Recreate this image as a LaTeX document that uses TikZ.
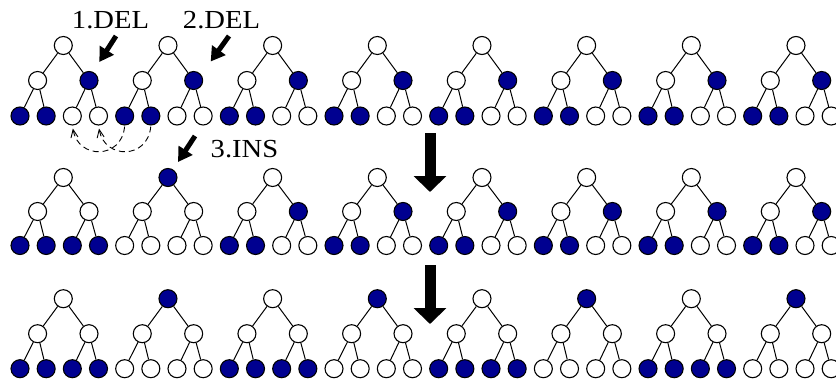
\documentclass[tikz,border=0pt]{standalone}
\usepackage{fontspec}
\setmainfont{Liberation Serif}
\newfontfamily\lblfont[FakeStretch=1.1]{Liberation Serif}
\usetikzlibrary{arrows.meta}
\definecolor{B}{RGB}{0,0,144}
\colorlet{W}{white}
\begin{document}
\begin{tikzpicture}[x=1pt,y=-1pt,
  vtx/.style={circle,draw=black,line width=1.1pt,minimum size=18pt,inner sep=0pt},
  edge/.style={line width=1pt},
  lbl/.style={font=\lblfont\fontsize{26}{30}\selectfont,inner sep=0pt},
  fatarrow/.style={line width=5pt,-{Triangle[length=14pt,width=16pt]}},
  bigarrow/.style={line width=11pt,-{Triangle[length=16pt,width=32pt]}},
  move/.style={line width=0.9pt,dash pattern=on 6pt off 4pt,shorten <=1pt,shorten >=3pt,-{Straight Barb[length=8pt,width=7pt]}}
]
\useasboundingbox (0,0) rectangle (836,381);
\foreach \rw/\kk/\fA/\fB/\fC/\fD/\fE/\fF/\fG in {
 1/0/W/W/B/B/B/W/W, 1/1/W/W/B/B/B/W/W, 1/2/W/W/B/B/B/W/W, 1/3/W/W/B/B/B/W/W,
 1/4/W/W/B/B/B/W/W, 1/5/W/W/B/B/B/W/W, 1/6/W/W/B/B/B/W/W, 1/7/W/W/B/B/B/W/W,
 2/0/W/W/W/B/B/B/B, 2/1/B/W/W/W/W/W/W, 2/2/W/W/B/B/B/W/W, 2/3/W/W/B/B/B/W/W,
 2/4/W/W/B/B/B/W/W, 2/5/W/W/B/B/B/W/W, 2/6/W/W/B/B/B/W/W, 2/7/W/W/B/B/B/W/W,
 3/0/W/W/W/B/B/B/B, 3/1/B/W/W/W/W/W/W, 3/2/W/W/W/B/B/B/B, 3/3/B/W/W/W/W/W/W,
 3/4/W/W/W/B/B/B/B, 3/5/B/W/W/W/W/W/W, 3/6/W/W/W/B/B/B/B, 3/7/B/W/W/W/W/W/W}
{
  \pgfmathsetmacro\Yr{{45.5,177.5,298.7}[\rw-1]}
  \pgfmathsetmacro\Ya{{80.5,211.5,333.7}[\rw-1]}
  \pgfmathsetmacro\Yl{{116,245.5,368.7}[\rw-1]}
  \pgfmathsetmacro\Xr{63.3+104.67*\kk}
  \pgfmathsetmacro\Xl{20+104.67*\kk}
  \node[vtx,fill=\fA] (r\rw t\kk) at (\Xr,\Yr) {};
  \node[vtx,fill=\fB] (r\rw t\kk a) at (\Xr-25.7,\Ya) {};
  \node[vtx,fill=\fC] (r\rw t\kk b) at (\Xr+25.7,\Ya) {};
  \node[vtx,fill=\fD] (r\rw t\kk p) at (\Xl,\Yl) {};
  \node[vtx,fill=\fE] (r\rw t\kk q) at (\Xl+26.17,\Yl) {};
  \node[vtx,fill=\fF] (r\rw t\kk s) at (\Xl+52.33,\Yl) {};
  \node[vtx,fill=\fG] (r\rw t\kk u) at (\Xl+78.5,\Yl) {};
  \draw[edge] (r\rw t\kk) -- (r\rw t\kk a) (r\rw t\kk) -- (r\rw t\kk b)
    (r\rw t\kk a) -- (r\rw t\kk p) (r\rw t\kk a) -- (r\rw t\kk q)
    (r\rw t\kk b) -- (r\rw t\kk s) (r\rw t\kk b) -- (r\rw t\kk u);
}
% labels
\node[lbl,anchor=base] (del1) at (110.5,28.5) {1.DEL};
\node[lbl,anchor=base] (del2) at (221.5,28.5) {2.DEL};
\node[lbl,anchor=base] (ins3) at (244.5,157.5) {3.INS};
% small arrows
\coordinate (a1s) at (116,36);  \coordinate (a1e) at (99.3,62);
\coordinate (a2s) at (229,36);  \coordinate (a2e) at (210.7,61.5);
\coordinate (a3s) at (195,136); \coordinate (a3e) at (178,162);
\draw[fatarrow] (a1s) -- (a1e);
\draw[fatarrow] (a2s) -- (a2e);
\draw[fatarrow] (a3s) -- (a3e);
% big arrows
\coordinate (b1s) at (430,133); \coordinate (b1e) at (430,192);
\coordinate (b2s) at (430,265); \coordinate (b2e) at (430,324);
\draw[bigarrow] (b1s) -- (b1e);
\draw[bigarrow] (b2s) -- (b2e);
% moves
\draw[move] (r1t1p.south) .. controls +(-3,34) and +(6,34) .. (r1t0s.south);
\draw[move] (r1t1q.south) .. controls +(-3,34) and +(6,34) .. (r1t0u.south);
\end{tikzpicture}
\end{document}
